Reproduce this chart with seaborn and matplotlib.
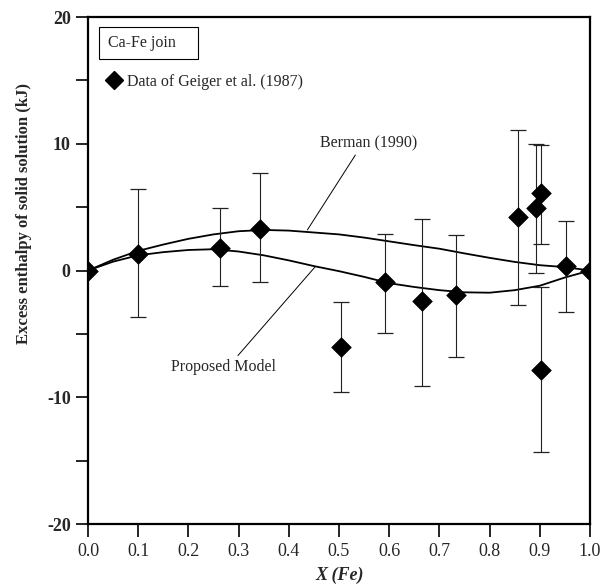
import matplotlib
matplotlib.use("Agg")
import matplotlib.pyplot as plt
from matplotlib.patches import Rectangle
from matplotlib.lines import Line2D
import seaborn as sns
import pandas as pd


# -------------------- Data --------------------

# Geiger et al. (1987) measurements
x_fe = [0.0, 0.1, 0.263, 0.343, 0.504, 0.592, 0.665, 0.733, 0.857, 0.892, 0.902, 0.902, 0.952, 1.0]
h_excess = [0.0, 1.3, 1.8, 3.3, -6.05, -0.9, -2.4, -1.9, 4.25, 4.9, 6.1, -7.85, 0.35, 0.0]
err_top = [0.0, 6.4, 4.9, 7.7, -2.5, 2.9, 4.1, 2.8, 11.1, 10.0, 9.9, -1.3, 3.9, 0.0]
err_bottom = [0.0, -3.7, -1.2, -0.9, -9.6, -4.9, -9.1, -6.8, -2.7, -0.2, 2.1, -14.3, -3.3, 0.0]

# model curves
curve_x = [0.0, 0.05, 0.1, 0.15, 0.2, 0.25, 0.3, 0.35, 0.4, 0.45, 0.5,
           0.55, 0.6, 0.65, 0.7, 0.75, 0.8, 0.85, 0.9, 0.95, 1.0]
berman = [0.0, 0.85, 1.55, 2.05, 2.5, 2.85, 3.1, 3.2, 3.15, 3.0, 2.85,
          2.6, 2.3, 2.0, 1.72, 1.35, 1.0, 0.68, 0.42, 0.27, 0.0]
proposed = [0.0, 0.7, 1.2, 1.45, 1.62, 1.68, 1.5, 1.2, 0.8, 0.35, -0.05,
            -0.5, -1.0, -1.3, -1.55, -1.72, -1.75, -1.55, -1.2, -0.55, 0.0]

x_ticks = [0.0, 0.1, 0.2, 0.3, 0.4, 0.5, 0.6, 0.7, 0.8, 0.9, 1.0]
y_ticks = [-20, -10, 0, 10, 20]

df = pd.DataFrame({"x": x_fe, "h": h_excess, "top": err_top, "bottom": err_bottom})
curves = pd.DataFrame({"x": curve_x, "Berman (1990)": berman, "Proposed Model": proposed})


# -------------------- Plot --------------------

sns.set_style("ticks")
plt.rcParams["font.family"] = ["Liberation Serif", "DejaVu Serif"]

fig = plt.figure(figsize=(6.01, 5.87), dpi=100)
ax = fig.add_axes([0.1464, 0.1073, 0.8353, 0.8637])

# model curves
for col in ["Berman (1990)", "Proposed Model"]:
    sns.lineplot(data=curves, x="x", y=col, color="black", linewidth=1.3, ax=ax, legend=False)

# error bars (skip end members, they have none)
eb = df[df["top"] != df["bottom"]]
ax.errorbar(eb["x"], eb["h"], yerr=[eb["h"] - eb["bottom"], eb["top"] - eb["h"]],
            fmt="none", ecolor="#222222", elinewidth=0.8, capsize=6, capthick=0.9, zorder=3)

# data points
sns.scatterplot(data=df, x="x", y="h", marker="D", s=100, color="black",
                edgecolor="black", linewidth=0.5, zorder=4, ax=ax, legend=False)

# annotations
ax.annotate("Berman (1990)", xy=(0.437, 3.2), xytext=(0.56, 10.0),
            ha="center", va="center", fontsize=11.5,
            arrowprops=dict(arrowstyle="-", lw=0.7, color="black",
                            shrinkA=0, shrinkB=0, relpos=(0.38, 0.0)))
ax.annotate("Proposed Model", xy=(0.452, 0.27), xytext=(0.27, -7.6),
            ha="center", va="center", fontsize=11.5,
            arrowprops=dict(arrowstyle="-", lw=0.7, color="black",
                            shrinkA=0, shrinkB=0, relpos=(0.61, 1.0)))

# "Ca-Fe join" box
ax.add_patch(Rectangle((0.022, 0.917), 0.197, 0.064, transform=ax.transAxes,
                       fill=False, edgecolor="black", linewidth=0.8))
ax.text(0.040, 0.949, "Ca-Fe join", transform=ax.transAxes, ha="left", va="center", fontsize=11.5)

# legend for the data points
handle = Line2D([], [], marker="D", linestyle="none", color="black", markersize=9)
ax.legend(handles=[handle], labels=["Data of Geiger et al. (1987)"],
          loc="center left", bbox_to_anchor=(0.036, 0.872), frameon=False,
          borderpad=0, borderaxespad=0, handlelength=1.0, handletextpad=0.3, fontsize=11.5)

# axes
ax.set_xlim(0, 1)
ax.set_ylim(-20, 20)
ax.set_xticks(x_ticks)
ax.set_xticklabels([f"{t:.1f}" for t in x_ticks], fontsize=13)
ax.set_yticks(y_ticks)
ax.set_yticklabels([str(t) for t in y_ticks], fontsize=13, fontweight="bold")
ax.set_yticks([-15, -5, 5, 15], minor=True)
ax.tick_params(axis="both", which="both", direction="out", length=9, width=1.2, color="black")
ax.tick_params(axis="x", pad=5)

for spine in ax.spines.values():
    spine.set_linewidth(1.6)
    spine.set_color("black")

ax.set_xlabel("X (Fe)", fontsize=13, fontweight="bold", fontstyle="italic")
ax.set_ylabel("Excess enthalpy of solid solution (kJ)", fontsize=12, fontweight="bold")
ax.xaxis.set_label_coords(0.502, -0.085)
ax.yaxis.set_label_coords(-0.112, 0.613)

fig.savefig("out.png", dpi=100)
